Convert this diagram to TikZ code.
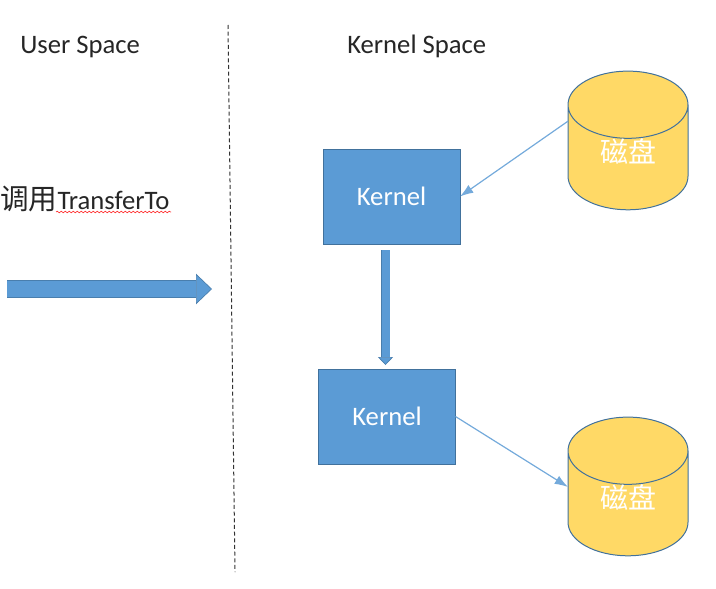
\documentclass[tikz,border=0pt]{standalone}
\usepackage{fontspec}
\setmainfont{Carlito}
\newfontfamily\cjk{Noto Sans CJK SC}
\usetikzlibrary{shapes.geometric,decorations.pathmorphing,arrows.meta}
\definecolor{boxblue}{HTML}{5B9BD5}
\definecolor{edgeblue}{HTML}{41719C}
\definecolor{diskyellow}{HTML}{FFD966}
\newcommand{\disklabel}{\smash{\raisebox{-4.1pt}{磁盘}}}
\tikzset{
  kernelbox/.style={draw=edgeblue,fill=boxblue,text=white,line width=0.75pt,outer sep=0pt,
    minimum width=102.75pt,minimum height=71.25pt,inner sep=0pt,font=\fontsize{20}{24}\selectfont},
  disk/.style={cylinder,shape border rotate=90,aspect=1.2,draw=edgeblue,fill=diskyellow,
    text=white,line width=0.75pt,outer sep=0pt,minimum width=90pt,minimum height=104pt,inner sep=0pt,
    font=\cjk\fontsize{21}{25}\selectfont},
  title/.style={inner sep=0pt,text=black!85,font=\fontsize{20}{24}\selectfont},
  thinarrow/.style={draw=boxblue!85,line width=0.9pt,-{Latex[length=10pt,width=7pt]}},
  bigarrow/.style={draw=edgeblue!70!boxblue,line width=0.5pt,double=boxblue,double distance=#1,
    -{Triangle[length=#1*1.0,width=#1*1.9,fill=boxblue]}},
}
\begin{document}
\begin{tikzpicture}[x=0.75pt,y=-0.75pt]
  \useasboundingbox (0,0) rectangle (716,588);
  \node[title,anchor=west] (user) at (20,47) {User Space};
  \node[title,anchor=west] (kspace) at (347,46) {Kernel Space};
  \node[title,anchor=west] (call) at (0,199) {{\cjk\fontsize{21.5}{25}\selectfont 调用}TransferTo};
  \node[kernelbox] (kernelA) at (391.5,196.5) {Kernel};
  \node[kernelbox] (kernelB) at (387,416.5) {Kernel};
  \node[disk] (diskA) at (628,157.5) {\disklabel};
  \node[disk] (diskB) at (628,503.5) {\disklabel};
  % divider
  \coordinate (divtop) at (228,25);
  \coordinate (divbot) at (235,572);
  \draw[black!80,line width=0.75pt,dash pattern=on 3pt off 2pt] (divtop) -- (divbot);
  % squiggle under the misspelt word
  \coordinate (wavea) at (56,212);
  \coordinate (waveb) at (171,212);
  \draw[red!80!white,line width=0.5pt,decorate,decoration={snake,amplitude=0.6pt,segment length=3pt}] (wavea) -- (waveb);
  % call arrow
  \coordinate (calla) at (7,289);
  \coordinate (callb) at (212,289);
  \draw[bigarrow=12pt] (calla) -- (callb);
  % copy arrow
  \coordinate (copya) at (385.5,250);
  \coordinate (copyb) at (385.5,365);
  \draw[bigarrow=6pt] (copya) -- (copyb);
  \draw[thinarrow] ([yshift=27.25pt]diskA.west) -- (kernelA.east);
  \draw[thinarrow] (kernelB.east) -- ([yshift=12.4pt]diskB.west);
\end{tikzpicture}
\end{document}
